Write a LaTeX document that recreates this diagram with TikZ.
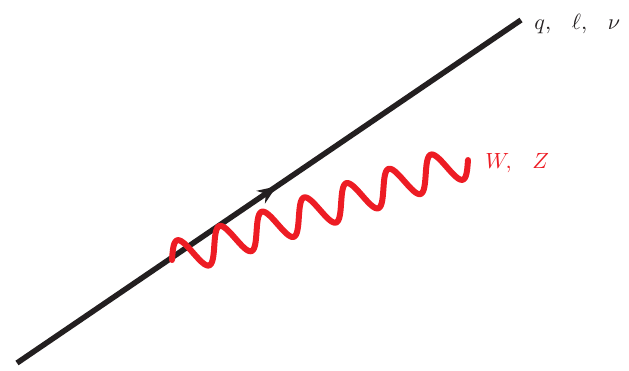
\documentclass[tikz,border=0pt]{standalone}
\usetikzlibrary{decorations.markings,arrows.meta}
\definecolor{ink}{HTML}{231F20}
\definecolor{bosonred}{HTML}{ED1C24}
\tikzset{
  fermion/.style={draw=ink, line width=5.5pt,
    postaction={decorate, decoration={markings,
      mark=at position 0.515 with {\arrow[ink]{Stealth[length=19pt,width=15pt,inset=6pt]}}}}},
  boson/.style={draw=bosonred, line width=6pt, line cap=round, line join=round},
  lbl/.style={anchor=base west, inner sep=0pt, scale=2.2}
}
\begin{document}
\begin{tikzpicture}[x=1pt,y=-1pt]
\useasboundingbox (0,0) rectangle (629,370);
\coordinate (f1) at (17,363);
\coordinate (f2) at (521,20);
\coordinate (w1) at (172,260);
\coordinate (w2) at (468,160);
\draw[fermion] (f1) -- (f2);
% wavy boson line from (w1) towards (w2): 7 full periods
\begin{scope}[shift={(w1)}, rotate=18.666]
  \draw[boson] plot[domain=0:312.43, samples=400, smooth] (\x, {-17*sin(\x*8.0658)});
\end{scope}
\node[lbl, text=ink] (flbl) at (534,29) {$q,\mkern14mu \ell,\mkern14mu \nu$};
\node[lbl, text=bosonred] (blbl) at (485,168) {$W,\mkern14mu Z$};
\end{tikzpicture}
\end{document}
